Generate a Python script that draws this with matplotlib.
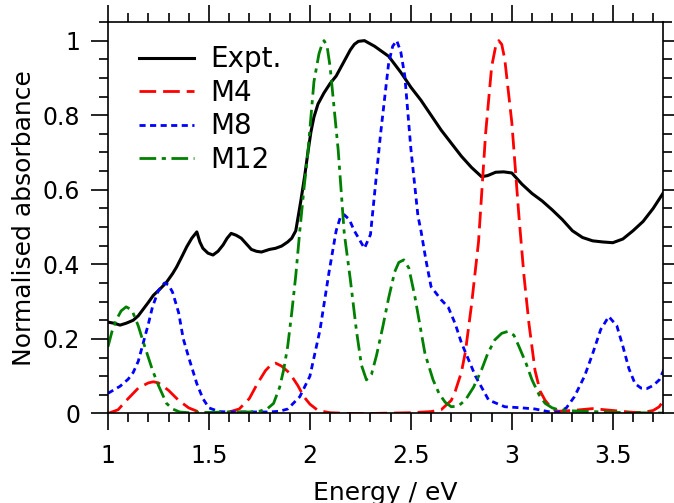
import matplotlib
matplotlib.use("Agg")
import matplotlib.pyplot as plt
from matplotlib.ticker import MultipleLocator

expt_e = [1.00, 1.03, 1.06, 1.09, 1.125, 1.15, 1.175, 1.2, 1.225, 1.26, 1.29, 1.32, 1.34, 1.37,
          1.39, 1.415, 1.44, 1.455, 1.47, 1.495, 1.52, 1.545, 1.57, 1.59, 1.61, 1.635, 1.66,
          1.685, 1.71, 1.735, 1.76, 1.8, 1.83, 1.86, 1.89, 1.91, 1.93, 1.955, 1.975, 1.99, 2.005,
          2.02, 2.04, 2.07, 2.10, 2.13, 2.155, 2.18, 2.2, 2.22, 2.24, 2.27, 2.32, 2.39, 2.45,
          2.5, 2.55, 2.6, 2.65, 2.7, 2.75, 2.8, 2.85, 2.88, 2.92, 2.96, 3.0, 3.05, 3.1, 3.15,
          3.2, 3.25, 3.3, 3.35, 3.4, 3.45, 3.5, 3.55, 3.6, 3.65, 3.7, 3.76]
expt_a = [0.245, 0.242, 0.237, 0.242, 0.25, 0.262, 0.28, 0.298, 0.317, 0.335, 0.352, 0.375, 0.393,
          0.425, 0.447, 0.47, 0.487, 0.46, 0.443, 0.43, 0.425, 0.435, 0.452, 0.47, 0.483, 0.478,
          0.47, 0.455, 0.44, 0.435, 0.433, 0.44, 0.443, 0.449, 0.46, 0.47, 0.49, 0.57, 0.64,
          0.70, 0.755, 0.795, 0.83, 0.86, 0.885, 0.905, 0.93, 0.955, 0.975, 0.99, 0.998, 1.0,
          0.985, 0.958, 0.915, 0.875, 0.84, 0.80, 0.76, 0.725, 0.69, 0.66, 0.635, 0.638, 0.647,
          0.648, 0.645, 0.615, 0.59, 0.57, 0.546, 0.52, 0.49, 0.472, 0.463, 0.46, 0.458, 0.468,
          0.49, 0.515, 0.55, 0.6]

# M4
m4_e = [1.0, 1.05, 1.1, 1.15, 1.2, 1.225, 1.25, 1.3, 1.35, 1.4, 1.45, 1.5, 1.55, 1.6, 1.65, 1.7,
        1.74, 1.78, 1.81, 1.83, 1.86, 1.9, 1.94, 1.97, 2.0, 2.04, 2.1, 2.2, 2.3, 2.4, 2.5, 2.6,
        2.65, 2.7, 2.72, 2.75, 2.77, 2.8, 2.835, 2.87, 2.9, 2.92, 2.935, 2.95, 2.965, 3.0,
        3.035, 3.06, 3.085, 3.115, 3.14, 3.165, 3.2, 3.23, 3.3, 3.4, 3.5, 3.6, 3.65, 3.7,
        3.73, 3.76]
m4_a = [0.0, 0.01, 0.04, 0.068, 0.082, 0.085, 0.082, 0.062, 0.035, 0.015, 0.004, 0.001, 0.001,
        0.004, 0.012, 0.04, 0.08, 0.115, 0.132, 0.135, 0.127, 0.108, 0.075, 0.045, 0.025, 0.008,
        0.002, 0.0, 0.0, 0.001, 0.002, 0.005, 0.01, 0.035, 0.06, 0.11, 0.165, 0.29, 0.46, 0.75,
        0.93, 0.985, 1.0, 0.99, 0.95, 0.78, 0.53, 0.37, 0.24, 0.115, 0.06, 0.035, 0.012, 0.006,
        0.008, 0.013, 0.008, 0.003, 0.003, 0.008, 0.018, 0.042]

# M8
m8_e = [1.0, 1.06, 1.1, 1.125, 1.15, 1.17, 1.2, 1.22, 1.25, 1.28, 1.3, 1.32, 1.35, 1.373, 1.4,
        1.44, 1.47, 1.5, 1.55, 1.6, 1.7, 1.8, 1.85, 1.89, 1.95, 2.0, 2.05, 2.095, 2.13, 2.15,
        2.17, 2.195, 2.22, 2.27, 2.3, 2.35, 2.39, 2.41, 2.43, 2.45, 2.47, 2.5, 2.535, 2.55,
        2.575, 2.6, 2.65, 2.685, 2.72, 2.75, 2.82, 2.885, 2.965, 3.05, 3.115, 3.18, 3.23, 3.27,
        3.31, 3.36, 3.4, 3.44, 3.48, 3.52, 3.55, 3.58, 3.61, 3.64, 3.67, 3.7, 3.73, 3.76]
m8_a = [0.054, 0.073, 0.092, 0.11, 0.14, 0.18, 0.24, 0.285, 0.33, 0.35, 0.345, 0.325, 0.27, 0.2,
        0.15, 0.08, 0.04, 0.015, 0.005, 0.004, 0.004, 0.004, 0.006, 0.012, 0.045, 0.1, 0.224,
        0.38, 0.49, 0.525, 0.533, 0.52, 0.49, 0.443, 0.48, 0.75, 0.94, 0.985, 1.0, 0.97, 0.905,
        0.71, 0.53, 0.49, 0.41, 0.34, 0.305, 0.285, 0.24, 0.19, 0.1, 0.036, 0.018, 0.015,
        0.012, 0.005, 0.003, 0.015, 0.045, 0.1, 0.16, 0.225, 0.26, 0.235, 0.18, 0.12, 0.08,
        0.068, 0.067, 0.075, 0.09, 0.126]

# M12
m12_e = [1.0, 1.02, 1.04, 1.065, 1.09, 1.11, 1.124, 1.15, 1.17, 1.2, 1.22, 1.25, 1.29, 1.32,
         1.355, 1.4, 1.5, 1.6, 1.7, 1.75, 1.79, 1.82, 1.85, 1.87, 1.89, 1.91, 1.93, 1.95, 1.97,
         1.99, 2.02, 2.045, 2.06, 2.07, 2.085, 2.10, 2.14, 2.17, 2.2, 2.23, 2.255, 2.28, 2.305,
         2.33, 2.36, 2.39, 2.42, 2.44, 2.465, 2.49, 2.52, 2.57, 2.61, 2.64, 2.67, 2.70, 2.735,
         2.77, 2.81, 2.85, 2.88, 2.915, 2.95, 2.98, 3.01, 3.035, 3.07, 3.10, 3.135, 3.165, 3.2,
         3.23, 3.3, 3.35, 3.5, 3.6, 3.76]
m12_a = [0.179, 0.22, 0.25, 0.275, 0.286, 0.28, 0.27, 0.235, 0.2, 0.15, 0.117, 0.075, 0.027,
         0.012, 0.004, 0.002, 0.003, 0.004, 0.004, 0.006, 0.013, 0.027, 0.07, 0.117, 0.18, 0.27,
         0.37, 0.49, 0.6, 0.7, 0.89, 0.965, 0.99, 1.0, 0.985, 0.93, 0.707, 0.484, 0.36, 0.224,
         0.13, 0.09, 0.105, 0.156, 0.23, 0.31, 0.38, 0.405, 0.412, 0.39, 0.313, 0.16, 0.09,
         0.053, 0.03, 0.018, 0.02, 0.036, 0.07, 0.117, 0.16, 0.197, 0.215, 0.22, 0.21, 0.18,
         0.135, 0.09, 0.05, 0.027, 0.015, 0.01, 0.007, 0.006, 0.003, 0.002, 0.001]

fig = plt.figure(figsize=(6.74, 5.03), dpi=100)
ax = fig.add_axes([0.1602, 0.178, 0.8239, 0.7783])

ax.plot(expt_e, expt_a, color='black', lw=2.2, label='Expt.')
ax.plot(m4_e, m4_a, color='red', lw=2.0, dashes=(6, 2.5), label='M4')
ax.plot(m8_e, m8_a, color='blue', lw=2.0, dashes=(2.2, 1.6), label='M8')
ax.plot(m12_e, m12_a, color='green', lw=2.0, dashes=(6, 2, 1.5, 2), label='M12')

ax.set_xlim(1, 3.75)
ax.set_ylim(0, 1.05)
ax.xaxis.set_minor_locator(MultipleLocator(0.1))
ax.yaxis.set_minor_locator(MultipleLocator(0.05))
ax.set_xticks([1, 1.5, 2, 2.5, 3, 3.5])
ax.set_xticklabels(['1', '1.5', '2', '2.5', '3', '3.5'])
ax.set_yticks([0, 0.2, 0.4, 0.6, 0.8, 1])
ax.set_yticklabels(['0', '0.2', '0.4', '0.6', '0.8', '1'])
ax.tick_params(which='both', direction='out', top=True, right=True, width=1.2, labelsize=17)
ax.tick_params(which='major', length=12)
ax.tick_params(which='minor', length=6.5)
ax.tick_params(axis='x', which='major', pad=10)
ax.tick_params(axis='y', which='major', pad=8)
for s in ax.spines.values():
    s.set_linewidth(1.2)

ax.set_xlabel('Energy / eV', fontsize=18, labelpad=9)
ax.set_ylabel('Normalised absorbance', fontsize=18, labelpad=5)

ax.legend(loc='upper left', frameon=False, fontsize=20, handlelength=2.0, handletextpad=0.6,
          labelspacing=0.2, borderaxespad=0.3, bbox_to_anchor=(0.02, 0.99))

fig.savefig('out.png', dpi=100)
